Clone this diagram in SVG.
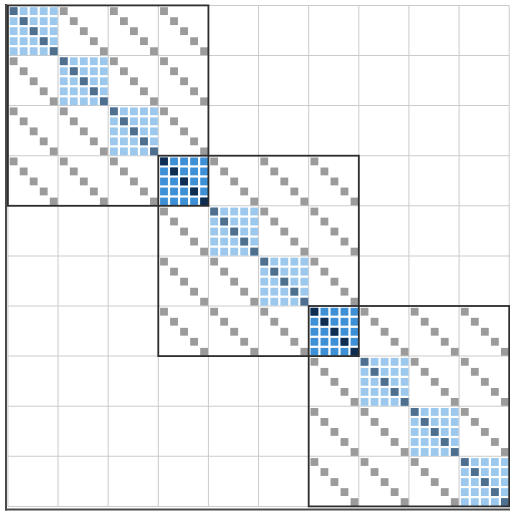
<svg xmlns="http://www.w3.org/2000/svg" width="510" height="512" viewBox="0 0 510 512">
<style>
.grid{stroke:#cbcbcb;stroke-width:1;fill:none}
.spine{stroke:#4a4a4a;stroke-width:2;fill:none}
.box{stroke:#2e2e2e;stroke-width:1.8;fill:none}
.lb{fill:#9bc8ec}.lbd{fill:#4f6f8f}
.db{fill:#3d8fd6}.dbd{fill:#0f2d50}
.gi{fill:#9b9b9b}
</style>
<defs>
<g id="row"><rect x="1.8" y="0" width="7.8" height="7.8"/><rect x="11.8" y="0" width="7.8" height="7.8"/><rect x="21.8" y="0" width="7.8" height="7.8"/><rect x="31.8" y="0" width="7.8" height="7.8"/><rect x="41.8" y="0" width="7.8" height="7.8"/></g>
<g id="cells"><use href="#row" y="1.8"/><use href="#row" y="11.8"/><use href="#row" y="21.8"/><use href="#row" y="31.8"/><use href="#row" y="41.8"/></g>
<g id="diag"><rect x="1.8" y="1.8" width="7.8" height="7.8"/><rect x="11.8" y="11.8" width="7.8" height="7.8"/><rect x="21.8" y="21.8" width="7.8" height="7.8"/><rect x="31.8" y="31.8" width="7.8" height="7.8"/><rect x="41.8" y="41.8" width="7.8" height="7.8"/></g>
<g id="lblk"><use href="#cells" class="lb"/><use href="#diag" class="lbd"/></g>
<g id="dblk"><use href="#cells" class="db"/><use href="#diag" class="dbd"/></g>
<g id="iblk"><use href="#diag" class="gi"/></g>
</defs>
<g id="axes">
<line class="spine" x1="6" y1="4" x2="6" y2="510.5"/>
<line class="spine" x1="5" y1="509.5" x2="510" y2="509.5"/>
</g>
<g transform="translate(7.9 5.4) scale(1.0026 1.002)">
<g id="gridlines" class="grid">
<path d="M0 0V500M50 0V500M100 0V500M150 0V500M200 0V500M250 0V500M300 0V500M350 0V500M400 0V500M450 0V500M500 0V500"/>
<path d="M0 0H500M0 50H500M0 100H500M0 150H500M0 200H500M0 250H500M0 300H500M0 350H500M0 400H500M0 450H500M0 500H500"/>
</g>
<g id="blocks">
<g id="b0-0"><use href="#lblk" x="0" y="0"/></g>
<g id="b1-1"><use href="#lblk" x="50" y="50"/></g>
<g id="b2-2"><use href="#lblk" x="100" y="100"/></g>
<g id="b3-3"><use href="#dblk" x="150" y="150"/></g>
<g id="b4-4"><use href="#lblk" x="200" y="200"/></g>
<g id="b5-5"><use href="#lblk" x="250" y="250"/></g>
<g id="b6-6"><use href="#dblk" x="300" y="300"/></g>
<g id="b7-7"><use href="#lblk" x="350" y="350"/></g>
<g id="b8-8"><use href="#lblk" x="400" y="400"/></g>
<g id="b9-9"><use href="#lblk" x="450" y="450"/></g>
<g id="b0-1"><use href="#iblk" x="50" y="0"/></g>
<g id="b0-2"><use href="#iblk" x="100" y="0"/></g>
<g id="b0-3"><use href="#iblk" x="150" y="0"/></g>
<g id="b1-0"><use href="#iblk" x="0" y="50"/></g>
<g id="b1-2"><use href="#iblk" x="100" y="50"/></g>
<g id="b1-3"><use href="#iblk" x="150" y="50"/></g>
<g id="b2-0"><use href="#iblk" x="0" y="100"/></g>
<g id="b2-1"><use href="#iblk" x="50" y="100"/></g>
<g id="b2-3"><use href="#iblk" x="150" y="100"/></g>
<g id="b3-0"><use href="#iblk" x="0" y="150"/></g>
<g id="b3-1"><use href="#iblk" x="50" y="150"/></g>
<g id="b3-2"><use href="#iblk" x="100" y="150"/></g>
<g id="b3-4"><use href="#iblk" x="200" y="150"/></g>
<g id="b3-5"><use href="#iblk" x="250" y="150"/></g>
<g id="b3-6"><use href="#iblk" x="300" y="150"/></g>
<g id="b4-3"><use href="#iblk" x="150" y="200"/></g>
<g id="b4-5"><use href="#iblk" x="250" y="200"/></g>
<g id="b4-6"><use href="#iblk" x="300" y="200"/></g>
<g id="b5-3"><use href="#iblk" x="150" y="250"/></g>
<g id="b5-4"><use href="#iblk" x="200" y="250"/></g>
<g id="b5-6"><use href="#iblk" x="300" y="250"/></g>
<g id="b6-3"><use href="#iblk" x="150" y="300"/></g>
<g id="b6-4"><use href="#iblk" x="200" y="300"/></g>
<g id="b6-5"><use href="#iblk" x="250" y="300"/></g>
<g id="b6-7"><use href="#iblk" x="350" y="300"/></g>
<g id="b6-8"><use href="#iblk" x="400" y="300"/></g>
<g id="b6-9"><use href="#iblk" x="450" y="300"/></g>
<g id="b7-6"><use href="#iblk" x="300" y="350"/></g>
<g id="b7-8"><use href="#iblk" x="400" y="350"/></g>
<g id="b7-9"><use href="#iblk" x="450" y="350"/></g>
<g id="b8-6"><use href="#iblk" x="300" y="400"/></g>
<g id="b8-7"><use href="#iblk" x="350" y="400"/></g>
<g id="b8-9"><use href="#iblk" x="450" y="400"/></g>
<g id="b9-6"><use href="#iblk" x="300" y="450"/></g>
<g id="b9-7"><use href="#iblk" x="350" y="450"/></g>
<g id="b9-8"><use href="#iblk" x="400" y="450"/></g>
</g>
<g id="groups" class="box">
<rect id="g1" x="0" y="0" width="200" height="200"/>
<rect id="g2" x="150" y="150" width="200" height="200"/>
<rect id="g3" x="300" y="300" width="200" height="200"/>
</g>
</g>
</svg>
